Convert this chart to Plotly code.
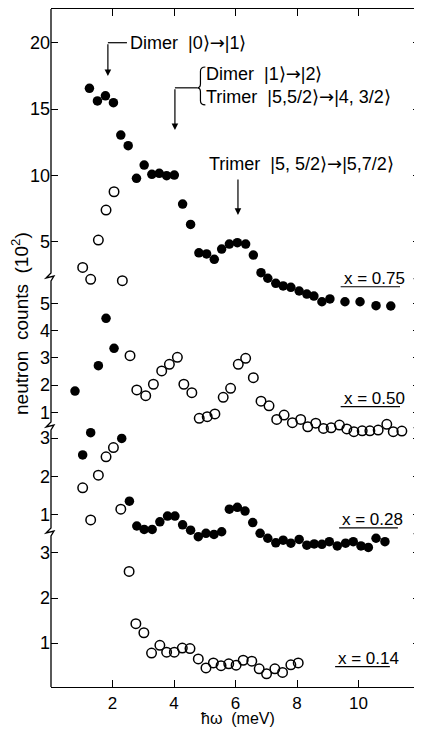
import plotly.graph_objects as go

# ---------------- data ----------------
# x = 0.75, filled circles, top scale
E_075 = [1.25, 1.51, 1.77, 2.03, 2.27, 2.51, 2.78, 3.03, 3.28, 3.52, 3.76, 4.01,
         4.28, 4.54, 4.81, 5.06, 5.31, 5.55, 5.80, 6.06, 6.33, 6.58, 6.83, 7.05,
         7.31, 7.55, 7.80, 8.07, 8.32, 8.55, 8.81, 9.07, 9.56, 10.05, 10.57, 11.05]
N_075 = [16.56, 15.61, 16.0, 15.48, 13.04, 12.24, 9.78, 10.78, 10.08, 10.16, 9.98, 10.03,
         7.84, 6.31, 4.17, 4.08, 3.68, 4.45, 4.83, 4.93, 4.83, 4.0, 2.67, 2.25,
         1.87, 1.67, 1.57, 1.29, 1.06, 0.91, 0.48, 0.69, 0.48, 0.48, 0.18, 0.16]

# open circles at low energy drawn against the top scale
E_top_open = [1.03, 1.29, 1.54, 1.79, 2.05, 2.32]
N_top_open = [3.07, 2.17, 5.13, 7.39, 8.77, 2.07]

# x = 0.50, open circles, second scale
E_050 = [2.57, 2.79, 3.08, 3.33, 3.60, 3.85, 4.11, 4.32, 4.58, 4.82, 5.08, 5.33,
         5.60, 5.84, 6.09, 6.33, 6.58, 6.83, 7.09, 7.34, 7.58, 7.85, 8.12, 8.35,
         8.61, 8.86, 9.11, 9.38, 9.62, 9.85, 10.12, 10.37, 10.64, 10.92, 11.13, 11.41]
N_050 = [3.08, 1.82, 1.61, 2.03, 2.52, 2.76, 3.02, 2.03, 1.72, 0.78, 0.84, 0.94,
         1.55, 1.88, 2.76, 2.98, 2.27, 1.41, 1.24, 0.74, 0.90, 0.62, 0.74, 0.47,
         0.60, 0.41, 0.43, 0.53, 0.39, 0.29, 0.32, 0.32, 0.35, 0.56, 0.29, 0.31]

# filled circles at low energy drawn against the second scale
E_050_fill = [0.78, 1.54, 1.79, 2.05]
N_050_fill = [1.78, 2.71, 4.45, 3.35]

# x = 0.28, filled circles, third scale
E_028 = [1.03, 1.29, 2.30, 2.55, 2.79, 3.03, 3.29, 3.54, 3.79, 4.03, 4.28, 4.54,
         4.79, 5.04, 5.30, 5.55, 5.80, 6.06, 6.31, 6.56, 6.80, 7.05, 7.31, 7.55,
         7.80, 8.07, 8.32, 8.56, 8.81, 9.05, 9.31, 9.58, 9.83, 10.08, 10.32, 10.57, 10.86]
N_028 = [2.56, 3.14, 2.99, 1.35, 0.70, 0.61, 0.61, 0.81, 0.96, 0.96, 0.73, 0.59,
         0.42, 0.51, 0.48, 0.55, 1.14, 1.19, 1.09, 0.79, 0.51, 0.38, 0.26, 0.33,
         0.25, 0.35, 0.20, 0.23, 0.22, 0.29, 0.18, 0.25, 0.29, 0.18, 0.14, 0.38, 0.29]

# open circles at low energy drawn against the third scale
E_028_open = [1.03, 1.29, 1.54, 1.79, 2.03, 2.27]
N_028_open = [1.70, 0.86, 2.03, 2.51, 2.75, 1.14]

# x = 0.14, open circles, bottom scale
E_014 = [2.54, 2.76, 3.02, 3.27, 3.54, 3.76, 4.01, 4.27, 4.52, 4.79, 5.04, 5.28,
         5.53, 5.78, 6.02, 6.25, 6.53, 6.77, 7.01, 7.28, 7.53, 7.80, 8.04]
N_014 = [2.59, 1.43, 1.23, 0.78, 0.95, 0.80, 0.80, 0.89, 0.88, 0.65, 0.45, 0.56,
         0.50, 0.54, 0.51, 0.62, 0.60, 0.43, 0.32, 0.43, 0.35, 0.52, 0.56]

x_ticks = [2, 4, 6, 8, 10]
ticks_A = [5, 10, 15, 20]
ticks_B = [1, 2, 3, 4, 5]
ticks_C = [1, 2, 3]
ticks_D = [1, 2, 3]
series_labels = ["x = 0.75", "x = 0.50", "x = 0.28", "x = 0.14"]

# ---------------- figure ----------------
FONT = "Liberation Sans"
# the page body adds an 8 px offset; the figure is sized so that the plot area
# lands at page pixels x 51..420, y 9..687
OFF = 8
W, H = 422 - OFF, 729 - OFF
ML, MR, MT, MB = 51 - OFF, 2, 9 - OFF, 42
PW, PH = W - ML - MR, H - MT - MB
LEFT_PG, TOP_PG = ML + OFF, MT + OFF
BOT_PG = TOP_PG + PH
RIGHT_PG = LEFT_PG + PW


def px(xp):   # page pixel x -> paper
    return (xp - LEFT_PG) / PW


def py(yp):   # page pixel y -> paper
    return (BOT_PG - yp) / PH


filled = dict(symbol="circle", size=9.5, color="black", line=dict(width=0))
opened = dict(symbol="circle-open", size=9.5, color="black", line=dict(width=1.5, color="black"))

fig = go.Figure()
fig.add_trace(go.Scatter(x=E_075, y=N_075, mode="markers", marker=filled, yaxis="y", name="x = 0.75"))
fig.add_trace(go.Scatter(x=E_top_open, y=N_top_open, mode="markers", marker=opened, yaxis="y", name="open (top scale)"))
fig.add_trace(go.Scatter(x=E_050, y=N_050, mode="markers", marker=opened, yaxis="y2", name="x = 0.50"))
fig.add_trace(go.Scatter(x=E_050_fill, y=N_050_fill, mode="markers", marker=filled, yaxis="y2", name="filled (2nd scale)"))
fig.add_trace(go.Scatter(x=E_028, y=N_028, mode="markers", marker=filled, yaxis="y3", name="x = 0.28"))
fig.add_trace(go.Scatter(x=E_028_open, y=N_028_open, mode="markers", marker=opened, yaxis="y3", name="open (3rd scale)"))
fig.add_trace(go.Scatter(x=E_014, y=N_014, mode="markers", marker=opened, yaxis="y4", name="x = 0.14"))

common_y = dict(showgrid=False, zeroline=False, showline=False, ticks="inside", ticklen=7,
                tickwidth=1.2, tickcolor="black", mirror="ticks",
                tickfont=dict(family=FONT, size=18, color="black"), anchor="x", side="left")

fig.update_layout(
    width=W, height=H, autosize=False,
    margin=dict(l=ML, r=MR, t=MT, b=MB, pad=0),
    paper_bgcolor="white", plot_bgcolor="white",
    showlegend=False,
    font=dict(family=FONT, size=18, color="black"),
    xaxis=dict(range=[0, 12], tickvals=x_ticks, ticktext=[str(t) for t in x_ticks],
               showgrid=False, zeroline=False, showline=True, linecolor="black", linewidth=1.3,
               mirror="ticks", ticks="inside", ticklen=7, tickwidth=1.2, tickcolor="black",
               tickfont=dict(family=FONT, size=17, color="black")),
    yaxis=dict(range=[-28.55, 22.54], tickvals=ticks_A, **common_y),
    yaxis2=dict(range=[-9.08, 15.80], tickvals=ticks_B, overlaying="y", **common_y),
    yaxis3=dict(range=[-3.51, 14.22], tickvals=ticks_C, overlaying="y", **common_y),
    yaxis4=dict(range=[0.027, 15.06], tickvals=ticks_D, overlaying="y", **common_y),
)

# ---- frame sides with axis breaks ----
breaks_px = [277, 426, 532]


def side_path(xp):
    pts = [(xp, TOP_PG)]
    for b in breaks_px:
        pts += [(xp, b - 7), (xp, b - 4), (xp - 5, b + 1), (xp + 3, b - 1),
                (xp, b + 4), (xp, b + 7)]
    pts.append((xp, BOT_PG))
    return "M " + " L ".join(f"{px(a):.5f},{py(b):.5f}" for a, b in pts)


shapes = []
for xp in [LEFT_PG, RIGHT_PG]:
    shapes.append(dict(type="path", xref="paper", yref="paper", path=side_path(xp),
                       line=dict(color="black", width=1.3)))

# ---- annotations: transitions ----
ARW = "<span style='font-family:DejaVu Sans'>→</span>"
ann = []
arrow_common = dict(showarrow=True, text="", arrowhead=2, arrowsize=1.1, arrowwidth=1.2,
                    arrowcolor="black", axref="x", standoff=0)
# Dimer |0> -> |1>
ann.append(dict(x=1.85, y=17.49, ax=1.85, ay=20.0, xref="x", yref="y", ayref="y", **arrow_common))
shapes.append(dict(type="line", xref="x", yref="y", x0=1.85, x1=2.47, y0=20.0, y1=20.0,
                   line=dict(color="black", width=1.2)))
ann.append(dict(x=2.50, y=20.0, xref="x", yref="y", xanchor="left", yanchor="middle",
                text=f"Dimer  |0⟩{ARW}|1⟩", showarrow=False))
# Dimer |1> -> |2> / Trimer |5,5/2> -> |4,3/2>
ann.append(dict(x=4.03, y=13.42, ax=4.03, ay=16.6, xref="x", yref="y", ayref="y", **arrow_common))
shapes.append(dict(type="line", xref="x", yref="y", x0=4.03, x1=4.76, y0=16.6, y1=16.6,
                   line=dict(color="black", width=1.2)))
shapes.append(dict(type="path", xref="x", yref="y",
                   path="M 5.02,18.17 Q 4.86,18.17 4.86,17.85 L 4.86,16.9 Q 4.86,16.6 4.76,16.6 "
                        "Q 4.86,16.6 4.86,16.3 L 4.86,15.62 Q 4.86,15.31 5.02,15.31",
                   line=dict(color="black", width=1.2)))
ann.append(dict(x=4.97, y=17.69, xref="x", yref="y", xanchor="left", yanchor="middle",
                text=f"Dimer  |1⟩{ARW}|2⟩", showarrow=False))
ann.append(dict(x=4.97, y=15.93, xref="x", yref="y", xanchor="left", yanchor="middle",
                text=f"Trimer  |5,5/2⟩{ARW}|4, 3/2⟩", showarrow=False))
# Trimer |5,5/2> -> |5,7/2>
ann.append(dict(x=6.08, y=7.02, ax=6.08, ay=9.8, xref="x", yref="y", ayref="y", **arrow_common))
ann.append(dict(x=5.06, y=10.93, xref="x", yref="y", xanchor="left", yanchor="middle",
                text=f"Trimer  |5, 5/2⟩{ARW}|5,7/2⟩", showarrow=False))

# ---- series labels with underline ----
lab_pos = [("y", 9.45, 2.27, 1.61, 11.35), ("y2", 9.45, 1.51, 1.21, 11.35),
           ("y3", 9.40, 0.86, 0.65, 11.28), ("y4", 9.27, 0.66, 0.48, 11.02)]
for lab, (yr, x0, yc, yu, x1) in zip(series_labels, lab_pos):
    ann.append(dict(x=x0, y=yc, xref="x", yref=yr, xanchor="left", yanchor="middle",
                    text=lab, showarrow=False, font=dict(size=17)))
    shapes.append(dict(type="line", xref="x", yref=yr, x0=x0 - 0.03, x1=x1, y0=yu, y1=yu,
                       line=dict(color="black", width=1.2)))

# ---- axis titles ----
ann.append(dict(x=px(20), y=py(324), xref="paper", yref="paper", textangle=-90,
                text="neutron  counts  (10<sup>2</sup>)", showarrow=False,
                xanchor="center", yanchor="middle", font=dict(size=19)))
ann.append(dict(x=6.08, y=py(718), xref="x", yref="paper", text="ħω  (meV)", showarrow=False,
                xanchor="center", yanchor="middle", font=dict(size=16)))

fig.update_layout(shapes=shapes, annotations=ann)
fig.write_html("out.html")
